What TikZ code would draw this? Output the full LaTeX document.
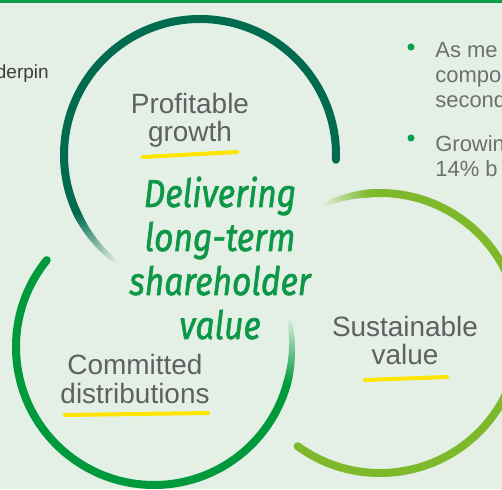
\documentclass[tikz,border=0pt]{standalone}
\usepackage{fontspec}
\setmainfont{Liberation Sans}
\newfontfamily\handfont{Fira Sans}[FakeBold=1.6]
\usetikzlibrary{positioning}

\definecolor{bg}{HTML}{E4EFE5}
\definecolor{topline}{HTML}{0E9D47}
\definecolor{ringA}{HTML}{006B4E}
\definecolor{ringB}{HTML}{009A3D}
\definecolor{ringC}{HTML}{7DB92B}
\definecolor{textgray}{HTML}{5F6062}
\definecolor{leftgray}{HTML}{3D3D3D}
\definecolor{bodygray}{HTML}{6E6F70}
\definecolor{hilite}{HTML}{FFE400}
\definecolor{goalgreen}{HTML}{0C9847}
\definecolor{bulletgreen}{HTML}{0AA04A}

\begin{document}
\begin{tikzpicture}[x=0.02cm, y=0.02cm,
  ring/.style={line width=0.16cm, line cap=butt},
  ringlbl/.style={text=textgray, align=center, inner sep=0pt,
                  font=\fontsize{15.9}{16.5}\selectfont},
  goal/.style={text=goalgreen, inner sep=0pt,
               font=\handfont\itshape\fontsize{22.2}{25}\selectfont},
  hilite/.style={draw=hilite, line width=0.08cm, line cap=round},
  body/.style={text=bodygray, align=left, inner sep=0pt,
               font=\fontsize{12.5}{14.5}\selectfont},
  dot/.style={circle, fill=bulletgreen, minimum size=0.14cm, inner sep=0pt},
]

\useasboundingbox (0,0) rectangle (502,489);
\fill[bg] (0,0) rectangle (502,489);
\clip (0,0) rectangle (502,489);
\fill[topline] (0,486) rectangle (502,489);

% --- Ring A: profitable growth ---
\coordinate (ca) at (200,334);
\draw[ring, ringA] (ca) ++(-2:136) arc[start angle=-2, end angle=205.5, radius=136];
\fill[ringA] (ca) ++(-2:136) circle[radius=0.08cm];
\foreach \a in {205,...,232} {
  \pgfmathsetmacro\p{100*(232-\a)/27}
  \pgfmathsetmacro\w{0.08+0.08*\p/100}
  \draw[draw=ringA!\p!bg, line width=\w cm] (ca) ++(\a:136) arc[start angle=\a, end angle=\a+1.4, radius=136];
}

% --- Ring B: committed distributions ---
\coordinate (cb) at (154,142);
\draw[ring, ringB] (cb) ++(141:138) arc[start angle=141, end angle=344.5, radius=138];
\fill[ringB] (cb) ++(141:138) circle[radius=0.08cm];
\foreach \a in {344,...,372} {
  \pgfmathsetmacro\p{100*(372-\a)/28}
  \pgfmathsetmacro\w{0.08+0.08*\p/100}
  \draw[draw=ringB!\p!bg, line width=\w cm] (cb) ++(\a:138) arc[start angle=\a, end angle=\a+1.4, radius=138];
}

% --- Ring C: sustainable value ---
\coordinate (cc) at (380,156);
\draw[ring, ringC] (cc) ++(-126:140) arc[start angle=-126, end angle=94.5, radius=140];
\fill[ringC] (cc) ++(-126:140) circle[radius=0.08cm];
\foreach \a in {94,...,114} {
  \pgfmathsetmacro\p{100*(114-\a)/20}
  \pgfmathsetmacro\w{0.08+0.08*\p/100}
  \draw[draw=ringC!\p!bg, line width=\w cm] (cc) ++(\a:140) arc[start angle=\a, end angle=\a+1.4, radius=140];
}

% --- Ring labels (base = last line) ---
\node[ringlbl, anchor=base] (profit) at (190,347) {Profitable\\growth};
\node[ringlbl, anchor=base] (commit) at (135,86) {Committed\\distributions};
\node[ringlbl, anchor=base] (sustain) at (405,124) {Sustainable\\value};

\draw[hilite] (143,332) -- (237,337);
\draw[hilite] (65,74) -- (208,76);
\draw[hilite] (365,109) -- (447,112);

% --- Centre ---
\foreach \txt [count=\i] in {Delivering,long-term,shareholder,value}
  \node[goal, anchor=base] (goal\i) at (220,{326-44*\i}) {\scalebox{0.86}[1]{\txt}};

% --- Side text ---
\node[body, text=leftgray, anchor=base east, font=\fontsize{10.8}{13}\selectfont] (underpin) at (49,410) {derpin};

\node[dot] (dot1) at (411,442) {};
\node[body, anchor=base west] (point1) at (435,381) {As me\\compo\\second};
\node[dot] (dot2) at (411,351) {};
\node[body, anchor=base west] (point2) at (435,312) {Growin\\14\% b};

\end{tikzpicture}
\end{document}
